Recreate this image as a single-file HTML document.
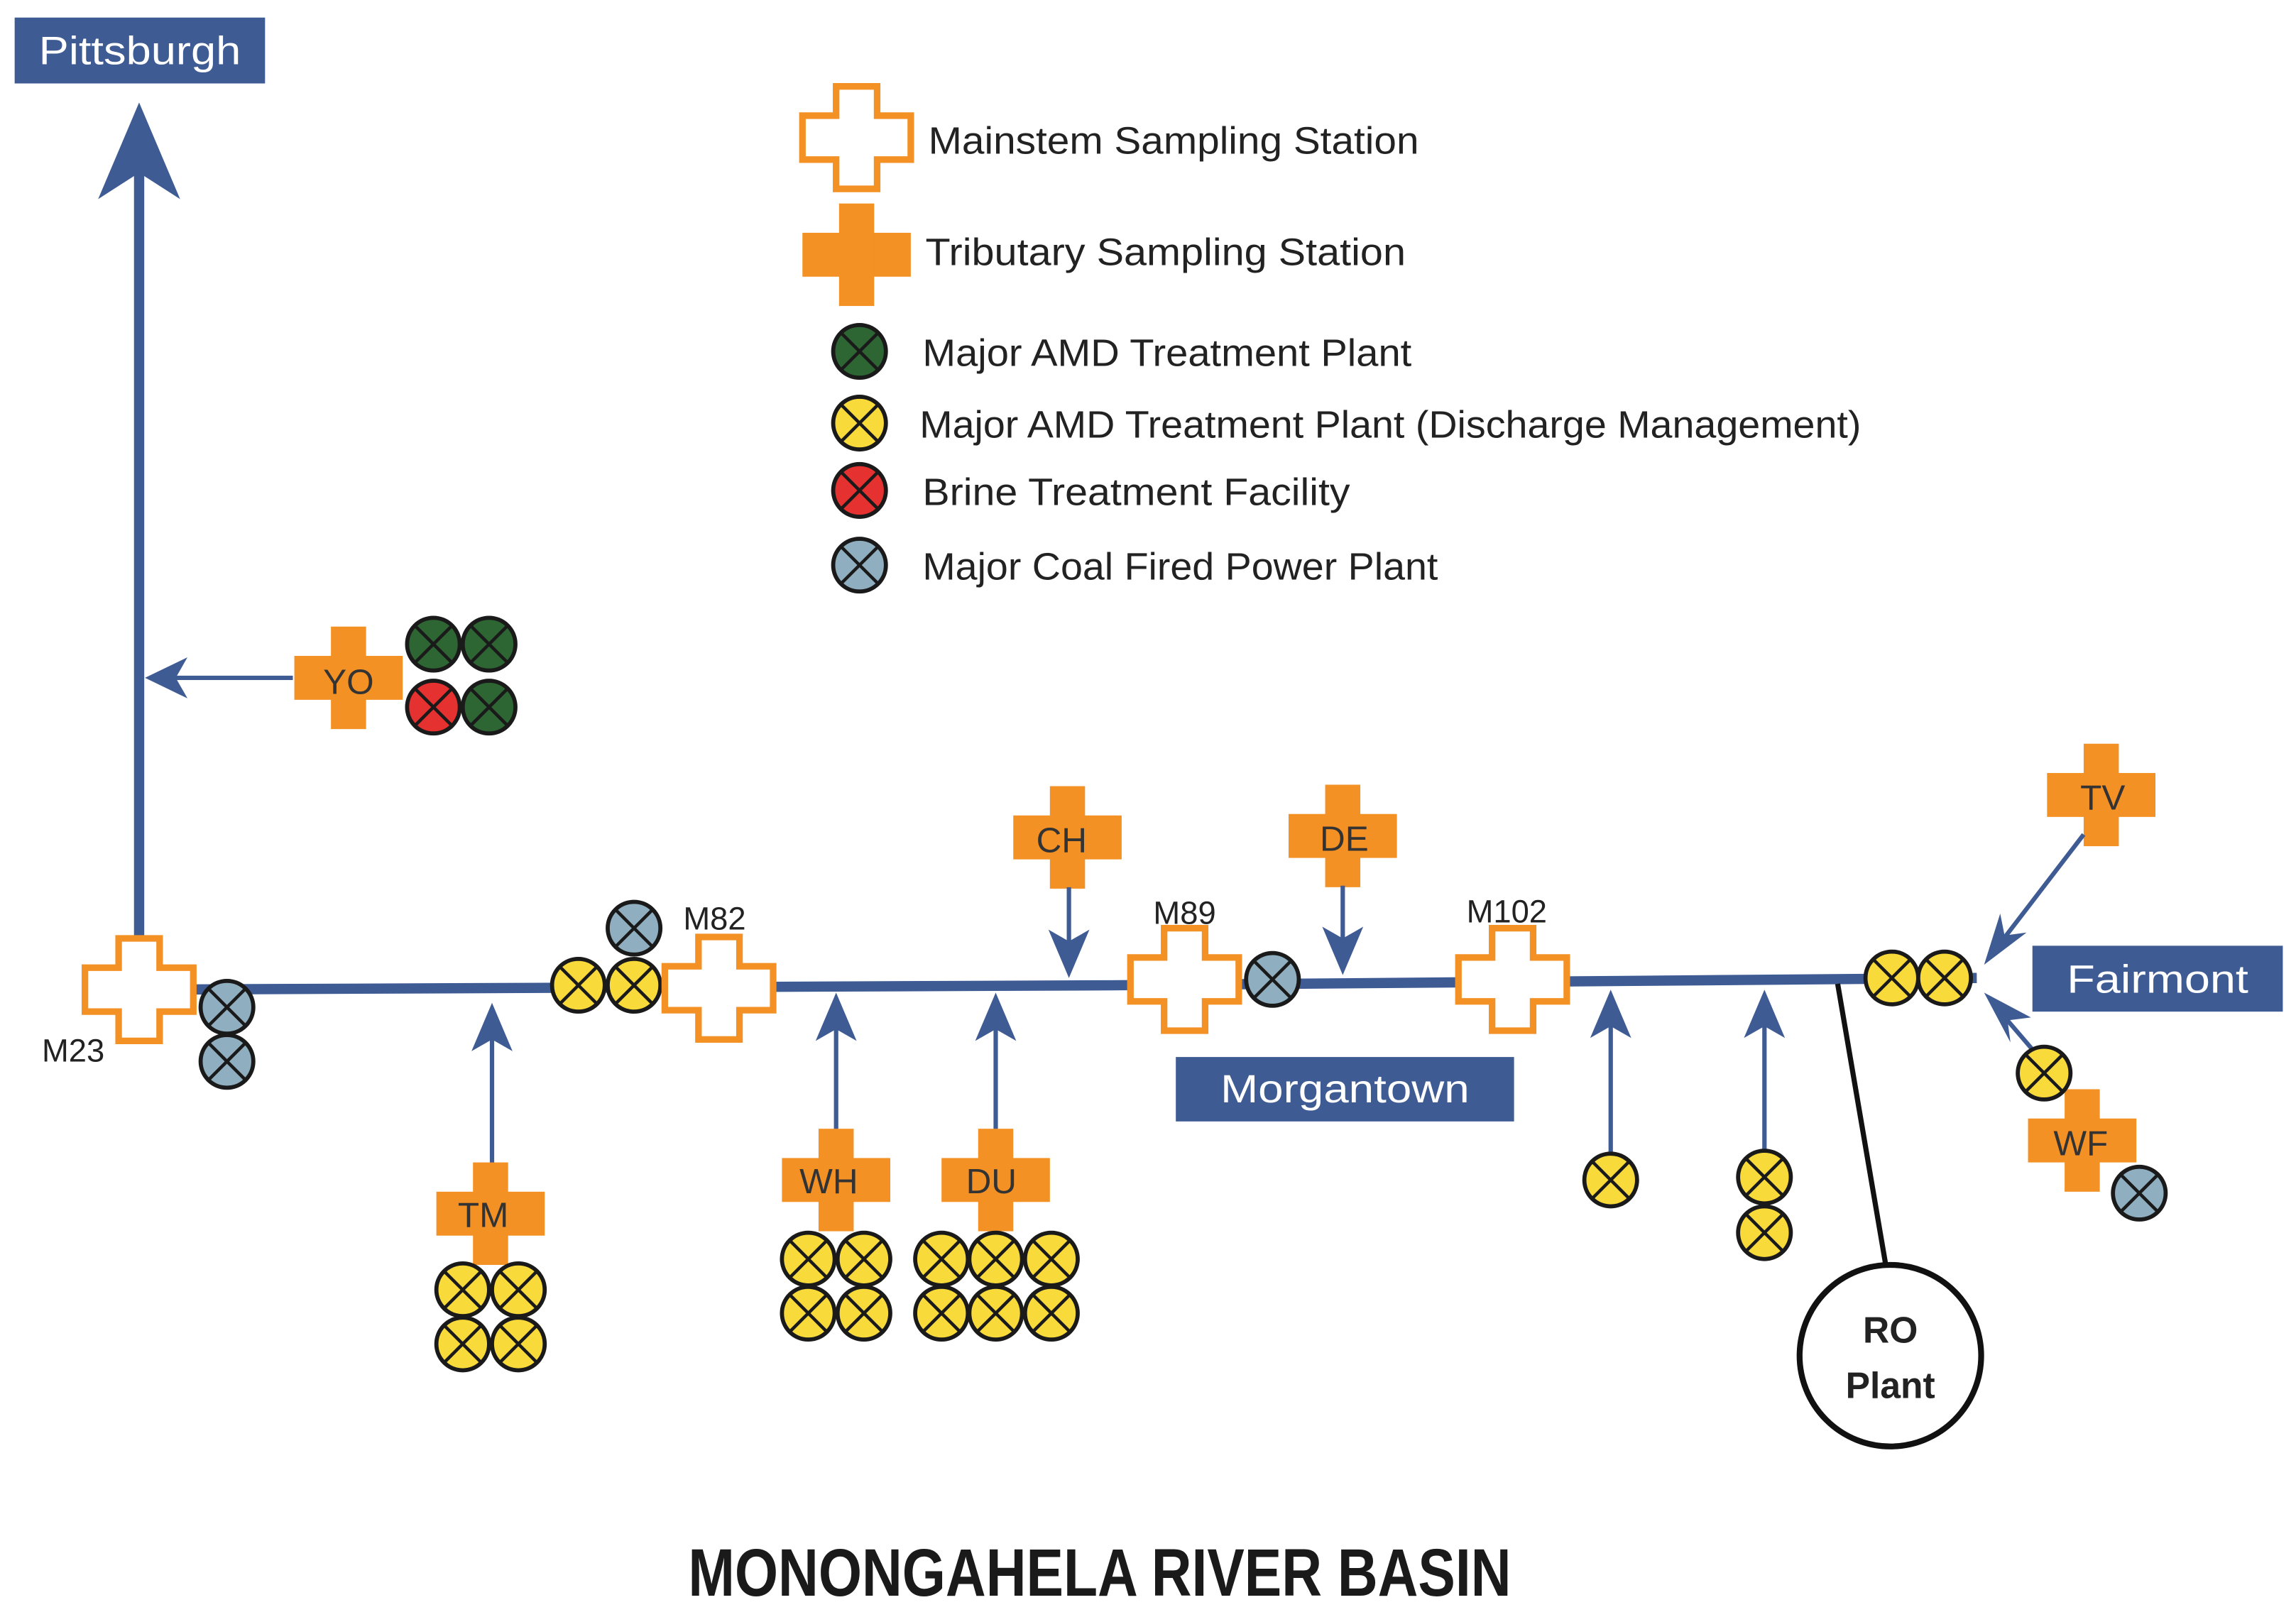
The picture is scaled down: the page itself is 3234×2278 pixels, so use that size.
<!DOCTYPE html>
<html><head><meta charset="utf-8"><style>
html,body{margin:0;padding:0;background:#fff;}
svg{display:block;}
text{font-family:"Liberation Sans",sans-serif;}
</style></head><body>
<svg width="3234" height="2278" viewBox="0 0 1568 1104.5" xmlns="http://www.w3.org/2000/svg">
<defs>
<g id="hx"><path d="M-14,-35 H14 V-15 H37 V15 H14 V35 H-14 V15 H-37 V-15 H-14 Z" fill="#fff" stroke="#F39125" stroke-width="4.5"/></g>
<g id="sx"><rect x="-37" y="-15" width="74" height="30" fill="#F39125"/><rect x="-12" y="-35" width="24" height="70" fill="#F39125"/></g>
<g id="cx"><line x1="-12.7" y1="-12.7" x2="12.7" y2="12.7" stroke="#1a1a1a" stroke-width="2.2"/><line x1="-12.7" y1="12.7" x2="12.7" y2="-12.7" stroke="#1a1a1a" stroke-width="2.2"/><circle r="18" fill="none" stroke="#1a1a1a" stroke-width="2.8"/></g>
<g id="Y"><circle r="18" fill="#F9DA3B"/><use href="#cx"/></g>
<g id="G"><circle r="18" fill="#2D6533"/><use href="#cx"/></g>
<g id="R"><circle r="18" fill="#E5312F"/><use href="#cx"/></g>
<g id="B"><circle r="18" fill="#8FAEBF"/><use href="#cx"/></g>
</defs>

<!-- Pittsburgh -->
<rect x="10" y="12" width="171" height="45" fill="#3E5B94"/>
<text x="95.5" y="44" fill="#fff" font-size="27" text-anchor="middle" textLength="138" lengthAdjust="spacingAndGlyphs">Pittsburgh</text>
<line x1="95" y1="678" x2="95" y2="110" stroke="#3E5B94" stroke-width="7"/>
<path d="M95,70 L123,136 L95,118 L67,136 Z" fill="#3E5B94"/>

<!-- YO -->
<line x1="200" y1="463" x2="110" y2="463" stroke="#3E5B94" stroke-width="3"/>
<path d="M99,463 L128,449 L120,463 L128,477 Z" fill="#3E5B94"/>
<g transform="translate(238,463)"><use href="#sx"/></g>
<text x="238" y="474" font-size="24" text-anchor="middle" fill="#333">YO</text>
<use href="#G" x="296" y="440"/><use href="#G" x="334" y="440"/>
<use href="#R" x="296" y="483"/><use href="#G" x="334" y="483"/>

<!-- main river -->
<path d="M95,676 L760,673 L1350,668" stroke="#3E5B94" stroke-width="7" fill="none"/>

<!-- M23 -->
<use href="#hx" x="95" y="676"/>
<text x="50" y="725" font-size="22" text-anchor="middle" fill="#222">M23</text>
<use href="#B" x="155" y="688"/><use href="#B" x="155" y="725"/>

<!-- TM -->
<line x1="336" y1="795" x2="336" y2="705" stroke="#3E5B94" stroke-width="3"/>
<path d="M336,685 L350,718 L336,710 L322,718 Z" fill="#3E5B94"/>
<use href="#sx" x="335" y="829"/>
<text x="330" y="838" font-size="24" text-anchor="middle" fill="#333">TM</text>
<use href="#Y" x="316" y="881"/><use href="#Y" x="354" y="881"/>
<use href="#Y" x="316" y="918"/><use href="#Y" x="354" y="918"/>

<!-- M82 -->
<use href="#B" x="433" y="634"/>
<use href="#Y" x="395" y="673"/><use href="#Y" x="433" y="673"/>
<use href="#hx" x="491" y="675"/>
<text x="488" y="635" font-size="22" text-anchor="middle" fill="#222">M82</text>

<!-- WH -->
<line x1="571" y1="772" x2="571" y2="698" stroke="#3E5B94" stroke-width="3"/>
<path d="M571,678 L585,711 L571,703 L557,711 Z" fill="#3E5B94"/>
<use href="#sx" x="571" y="806"/>
<text x="566" y="815" font-size="24" text-anchor="middle" fill="#333">WH</text>
<use href="#Y" x="552" y="860"/><use href="#Y" x="590" y="860"/>
<use href="#Y" x="552" y="897"/><use href="#Y" x="590" y="897"/>

<!-- DU -->
<line x1="680" y1="772" x2="680" y2="698" stroke="#3E5B94" stroke-width="3"/>
<path d="M680,678 L694,711 L680,703 L666,711 Z" fill="#3E5B94"/>
<use href="#sx" x="680" y="806"/>
<text x="677" y="815" font-size="24" text-anchor="middle" fill="#333">DU</text>
<use href="#Y" x="643" y="860"/><use href="#Y" x="680" y="860"/><use href="#Y" x="718" y="860"/>
<use href="#Y" x="643" y="897"/><use href="#Y" x="680" y="897"/><use href="#Y" x="718" y="897"/>

<!-- CH -->
<use href="#sx" x="729" y="572"/>
<text x="725" y="582" font-size="24" text-anchor="middle" fill="#333">CH</text>
<line x1="730" y1="606" x2="730" y2="650" stroke="#3E5B94" stroke-width="3"/>
<path d="M730,668 L744,635 L730,643 L716,635 Z" fill="#3E5B94"/>

<!-- M89 -->
<use href="#hx" x="809" y="669"/>
<text x="809" y="631" font-size="22" text-anchor="middle" fill="#222">M89</text>
<use href="#B" x="869" y="669"/>

<!-- DE -->
<use href="#sx" x="917" y="571"/>
<text x="918" y="581" font-size="24" text-anchor="middle" fill="#333">DE</text>
<line x1="917" y1="605" x2="917" y2="648" stroke="#3E5B94" stroke-width="3"/>
<path d="M917,666 L931,633 L917,641 L903,633 Z" fill="#3E5B94"/>

<!-- Morgantown -->
<rect x="803" y="722" width="231" height="44" fill="#3E5B94"/>
<text x="918.5" y="753" fill="#fff" font-size="27" text-anchor="middle" textLength="170" lengthAdjust="spacingAndGlyphs">Morgantown</text>

<!-- M102 -->
<use href="#hx" x="1033" y="669"/>
<text x="1029" y="630" font-size="22" text-anchor="middle" fill="#222">M102</text>

<!-- small tribs -->
<line x1="1100" y1="788" x2="1100" y2="695" stroke="#3E5B94" stroke-width="3"/>
<path d="M1100,676 L1114,709 L1100,701 L1086,709 Z" fill="#3E5B94"/>
<use href="#Y" x="1100" y="806"/>
<line x1="1205" y1="786" x2="1205" y2="695" stroke="#3E5B94" stroke-width="3"/>
<path d="M1205,676 L1219,709 L1205,701 L1191,709 Z" fill="#3E5B94"/>
<use href="#Y" x="1205" y="804"/><use href="#Y" x="1205" y="842"/>

<!-- RO plant -->
<line x1="1255" y1="672" x2="1288" y2="865" stroke="#111" stroke-width="3.5"/>
<circle cx="1291" cy="926" r="62" fill="#fff" stroke="#111" stroke-width="4"/>
<text x="1291" y="917" font-size="25" font-weight="bold" text-anchor="middle" fill="#222">RO</text>
<text x="1291" y="955" font-size="25" font-weight="bold" text-anchor="middle" fill="#222">Plant</text>

<!-- Fairmont area -->
<use href="#Y" x="1292" y="668"/><use href="#Y" x="1328" y="668"/>
<rect x="1388" y="646" width="171" height="45" fill="#3E5B94"/>
<text x="1473.5" y="678" fill="#fff" font-size="27" text-anchor="middle" textLength="124" lengthAdjust="spacingAndGlyphs">Fairmont</text>

<use href="#sx" x="1435" y="543"/>
<text x="1436" y="553" font-size="24" text-anchor="middle" fill="#333">TV</text>
<line x1="1423" y1="570" x2="1367" y2="643" stroke="#3E5B94" stroke-width="3"/>
<path d="M1355,659 L1366,624 L1369,639 L1384,637 Z" fill="#3E5B94"/>

<use href="#sx" x="1422" y="779"/>
<text x="1421" y="789" font-size="24" text-anchor="middle" fill="#333">WF</text>
<line x1="1389" y1="718" x2="1365" y2="690" stroke="#3E5B94" stroke-width="3"/>
<path d="M1355,678 L1387,695 L1371,697 L1373,712 Z" fill="#3E5B94"/>
<use href="#Y" x="1396" y="733"/>
<use href="#B" x="1461" y="815"/>

<!-- Legend -->
<use href="#hx" x="585" y="94"/>
<text x="634" y="105" font-size="26" fill="#222" textLength="335" lengthAdjust="spacingAndGlyphs">Mainstem Sampling Station</text>
<use href="#sx" x="585" y="174"/>
<text x="632" y="181" font-size="26" fill="#222" textLength="328" lengthAdjust="spacingAndGlyphs">Tributary Sampling Station</text>
<use href="#G" x="587" y="240"/>
<text x="630" y="250" font-size="26" fill="#222" textLength="334" lengthAdjust="spacingAndGlyphs">Major AMD Treatment Plant</text>
<use href="#Y" x="587" y="289"/>
<text x="628" y="299" font-size="26" fill="#222" textLength="643" lengthAdjust="spacingAndGlyphs">Major AMD Treatment Plant (Discharge Management)</text>
<use href="#R" x="587" y="335"/>
<text x="630" y="345" font-size="26" fill="#222" textLength="292" lengthAdjust="spacingAndGlyphs">Brine Treatment Facility</text>
<use href="#B" x="587" y="386"/>
<text x="630" y="396" font-size="26" fill="#222" textLength="352" lengthAdjust="spacingAndGlyphs">Major Coal Fired Power Plant</text>

<!-- Title -->
<text x="751" y="1090" font-size="46" font-weight="bold" text-anchor="middle" fill="#1a1a1a" textLength="562" lengthAdjust="spacingAndGlyphs">MONONGAHELA RIVER BASIN</text>
</svg>
</body></html>
